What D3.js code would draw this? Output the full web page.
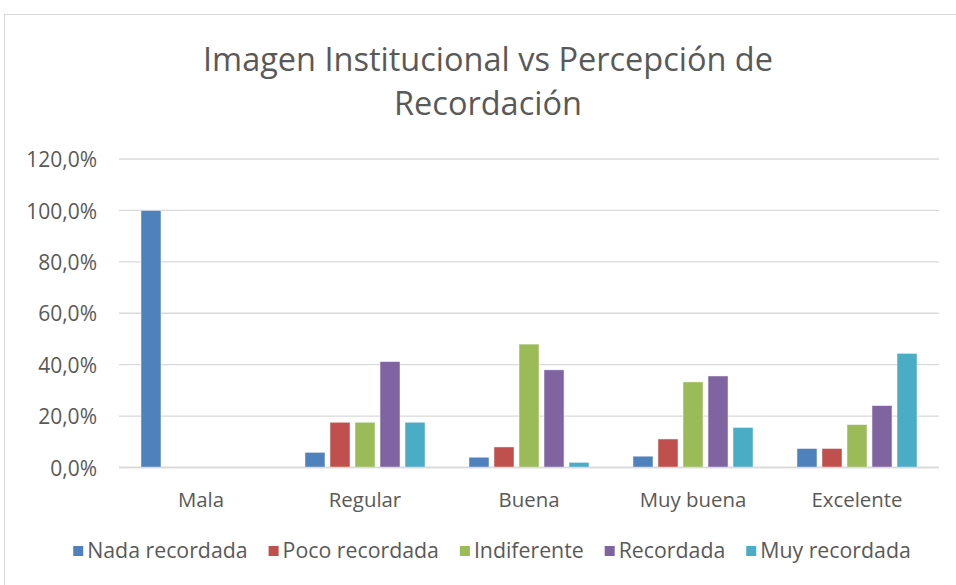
<!DOCTYPE html>
<html>
<head>
<meta charset="utf-8">
<script src="https://cdn.jsdelivr.net/npm/d3@7"></script>
<style>
  body { margin: 0; background: #fff; }
  text { font-family: "Open Sans", Lato, sans-serif; fill: #595959; }
</style>
</head>
<body>
<svg id="chart"></svg>
<script>
const categories = ["Mala", "Regular", "Buena", "Muy buena", "Excelente"];
const seriesNames = ["Nada recordada", "Poco recordada", "Indiferente", "Recordada", "Muy recordada"];
const seriesColors = ["#4F81BD", "#C0504D", "#9BBB59", "#8064A2", "#4BACC6"];
// percent per category, one array per series
const nadaRecordada = [100, 5.9, 4.0, 4.4, 7.4];
const pocoRecordada = [0, 17.6, 8.0, 11.1, 7.4];
const indiferente = [0, 17.6, 48.0, 33.3, 16.7];
const recordada = [0, 41.2, 38.0, 35.6, 24.1];
const muyRecordada = [0, 17.6, 2.0, 15.6, 44.4];
const yTicks = [0, 20, 40, 60, 80, 100, 120];

const seriesValues = [nadaRecordada, pocoRecordada, indiferente, recordada, muyRecordada];

const width = 956, height = 585;
const plot = { left: 119, right: 939, top: 159, bottom: 467.5 };

const svg = d3.select("#chart").attr("width", width).attr("height", height);

// chart frame
svg.append("rect")
  .attr("x", 4.5).attr("y", 14.5)
  .attr("width", 960).attr("height", 600)
  .attr("fill", "#fff")
  .attr("stroke", "#d9d9d9");

// title
const title = svg.append("text")
  .attr("text-anchor", "middle")
  .style("font-size", "32.5px");
title.append("tspan").attr("x", 488).attr("y", 71).text("Imagen Institucional vs Percepción de");
title.append("tspan").attr("x", 488).attr("y", 115).text("Recordación");

const x0 = d3.scaleBand()
  .domain(categories)
  .range([plot.left, plot.right])
  .paddingInner(0.268)
  .paddingOuter(0.134);

const x1 = d3.scaleBand()
  .domain(seriesNames)
  .range([0, x0.bandwidth()])
  .paddingInner(0.2);

const y = d3.scaleLinear()
  .domain([0, 120])
  .range([plot.bottom, plot.top]);

// gridlines
svg.append("g")
  .selectAll("line")
  .data(yTicks)
  .enter()
  .append("line")
  .attr("x1", plot.left)
  .attr("x2", plot.right)
  .attr("y1", d => y(d))
  .attr("y2", d => y(d))
  .attr("stroke", "#d9d9d9")
  .attr("stroke-width", 1.3);

// y labels
const yAxis = d3.axisLeft(y)
  .tickValues(yTicks)
  .tickSize(0)
  .tickPadding(0)
  .tickFormat(d => d.toFixed(1).replace(".", ",") + "%");

const gy = svg.append("g")
  .attr("transform", "translate(97,1)")
  .call(yAxis);
gy.select(".domain").remove();
gy.selectAll("text").style("font-size", "21px").attr("fill", "#595959");

// bars
const rows = [];
categories.forEach((c, i) => {
  seriesNames.forEach((s, j) => {
    rows.push({ cat: c, series: s, value: seriesValues[j][i], color: seriesColors[j] });
  });
});

svg.append("g")
  .selectAll("rect")
  .data(rows.filter(d => d.value > 0))
  .enter()
  .append("rect")
  .attr("x", d => x0(d.cat) + x1(d.series))
  .attr("y", d => y(d.value))
  .attr("width", x1.bandwidth())
  .attr("height", d => y(0) - y(d.value))
  .attr("fill", d => d.color)
  .attr("stroke", "#ffffff")
  .attr("stroke-opacity", 0.6)
  .attr("stroke-width", 0.8);

// baseline
svg.append("line")
  .attr("x1", plot.left).attr("x2", plot.right)
  .attr("y1", y(0)).attr("y2", y(0))
  .attr("stroke", "#d9d9d9")
  .attr("stroke-width", 1.3);

// x labels
const xAxis = d3.axisBottom(x0).tickSize(0).tickPadding(0);
const gx = svg.append("g")
  .attr("transform", "translate(0,507)")
  .call(xAxis);
gx.select(".domain").remove();
gx.selectAll("text")
  .attr("dy", 0)
  .style("font-size", "20.4px")
  .attr("fill", "#595959");

// legend
const legend = svg.append("g");
const gap = 21;
let lx = 0;
seriesNames.forEach((s, j) => {
  const item = legend.append("g").attr("transform", "translate(" + lx + ",0)");
  item.append("rect")
    .attr("x", 0).attr("y", -12)
    .attr("width", 10).attr("height", 10)
    .attr("fill", seriesColors[j]);
  const t = item.append("text")
    .attr("x", 14).attr("y", 0)
    .style("font-size", "21.3px")
    .text(s);
  lx += 14 + t.node().getComputedTextLength() + gap;
});
lx -= gap;
legend.attr("transform", "translate(" + (492 - lx / 2) + ",558)");
</script>
</body>
</html>
